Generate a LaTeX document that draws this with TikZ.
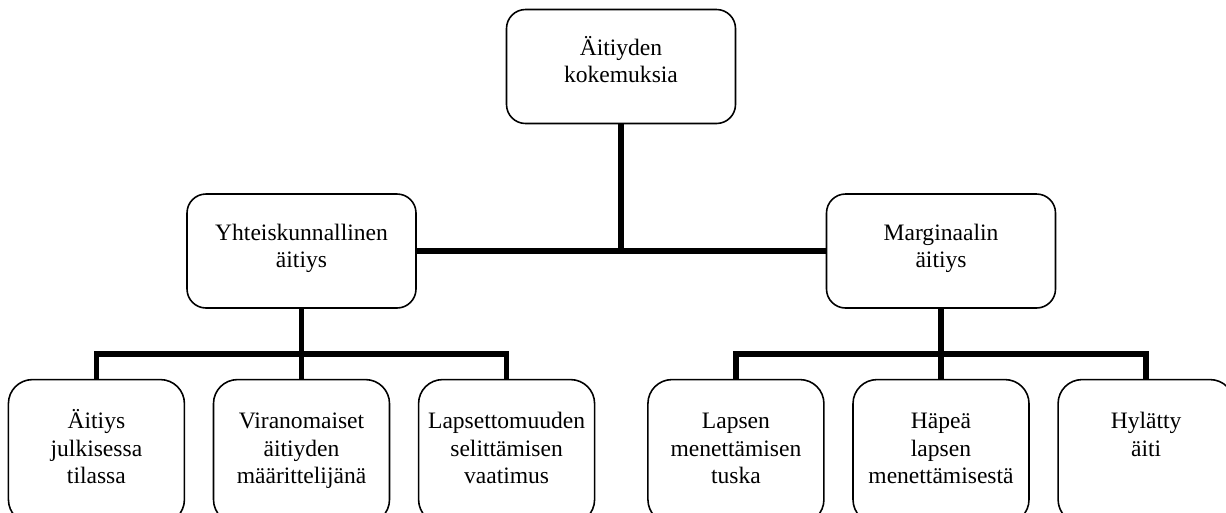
\documentclass[tikz,border=0pt]{standalone}
\usepackage{fontspec}
\setmainfont{Liberation Serif}
\usetikzlibrary{positioning, calc}

\begin{document}
\begin{tikzpicture}[
    box/.style={rectangle, rounded corners=0.38cm, draw=black, line width=0.9pt, fill=white, minimum width=4.58cm, minimum height=2.28cm, text width=4.3cm, align=center, inner xsep=2pt, text height=0.4cm, text depth=0.84cm, font=\fontsize{13.4}{15.6}\selectfont},
    leaf/.style={box, rounded corners=0.48cm, minimum width=3.52cm, minimum height=2.88cm, text width=3.3cm, text depth=1.32cm},
    link/.style={line width=3.2pt, black}
]

\useasboundingbox (0,0) rectangle (24.52,-10.24);

% Top level
\node[box] (top) at (12.42,-1.33) {Äitiyden\\kokemuksia};

% Second level
\node[box] (yht) at (6.03,-5.02) {Yhteiskunnallinen\\äitiys};
\node[box] (mar) at (18.82,-5.02) {Marginaalin\\äitiys};

% Leaves under Yhteiskunnallinen
\node[leaf, below=1.4cm of yht] (a2) {Viranomaiset\\äitiyden\\määrittelijänä};
\node[leaf, left=0.55cm of a2] (a1) {Äitiys\\julkisessa\\tilassa};
\node[leaf, right=0.55cm of a2] (a3) {Lapsettomuuden\\selittämisen\\vaatimus};

% Leaves under Marginaalin
\node[leaf, below=1.4cm of mar] (b2) {Häpeä\\lapsen\\menettämisestä};
\node[leaf, left=0.55cm of b2] (b1) {Lapsen\\menettämisen\\tuska};
\node[leaf, right=0.55cm of b2] (b3) {Hylätty\\äiti};

% Connectors
\coordinate (bar) at (0,-7.08);
\draw[link] (top.south) -- (top.south |- yht.east);
\draw[link] (yht.east) -- (mar.west);

\draw[link] (yht.south) -- (a2.north);
\draw[link] (a1.north) |- (bar -| a3.north) -- (a3.north);

\draw[link] (mar.south) -- (b2.north);
\draw[link] (b1.north) |- (bar -| b3.north) -- (b3.north);

\end{tikzpicture}
\end{document}
